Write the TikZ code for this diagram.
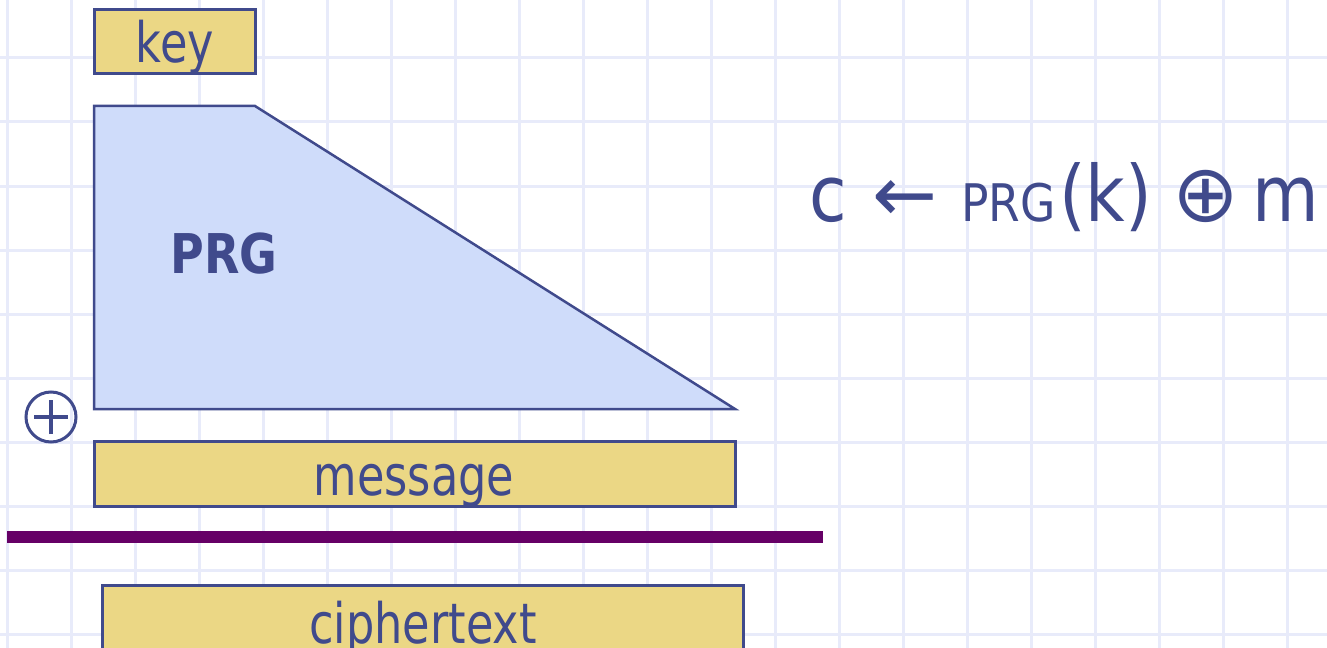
\documentclass[tikz,border=0pt]{standalone}
\usepackage{fontspec}
\setmainfont[FakeStretch=0.8]{DejaVu Sans}
\newfontfamily\symfont{DejaVu Sans}
\newfontfamily\eqfont[FakeStretch=0.88]{DejaVu Sans}
\newfontfamily\boldfont[FakeStretch=0.84]{DejaVu Sans Bold}
\definecolor{ink}{HTML}{404A8C}
\definecolor{gold}{HTML}{EBD785}
\definecolor{sky}{HTML}{CFDCFA}
\definecolor{plum}{HTML}{660066}
\definecolor{gridc}{HTML}{E8EBFA}
\begin{document}
\begin{tikzpicture}[x=1bp,y=-1bp,
  gridline/.style={draw=gridc,line width=3bp},
  ybox/.style={draw=ink,fill=gold,line width=3bp},
  lbl/.style={inner sep=0pt,text=ink,anchor=base,font=\fontsize{56}{60}\selectfont},
  eq/.style={inner sep=0pt,text=ink,anchor=base west},
  xorsym/.style={circle,draw=ink,line width=3bp,minimum size=50bp,inner sep=0pt}]
\useasboundingbox (0,0) rectangle (1327,648);
\clip (0,0) rectangle (1327,648);
\fill[white] (0,0) rectangle (1327,648);
\foreach \i in {0,...,20} \draw[gridline] (7+64*\i,0) -- (7+64*\i,648);
\foreach \j in {0,...,10} \draw[gridline] (0,-6+64*\j) -- (1327,-6+64*\j);
% key
\draw[ybox] (94,10) rectangle (255,74);
\node[lbl] (key) at (175,63) {key};
% PRG trapezoid
\draw[draw=ink,fill=sky,line width=2.5bp,line join=miter] (94,106) -- (255,106) -- (735,409) -- (94,409) -- cycle;
\node[lbl,font=\boldfont\fontsize{55}{60}\selectfont] (prg) at (224,273) {PRG};
% xor symbol
\node[xorsym] (xor) at (51,417) {};
\draw[ink,line width=3.5bp] ([xshift=-17bp]xor.center) -- ([xshift=17bp]xor.center);
\draw[ink,line width=3.5bp] ([yshift=-17bp]xor.center) -- ([yshift=17bp]xor.center);
% message
\draw[ybox] (94,441) rectangle (735,506);
\node[lbl] (msg) at (414,495) {message};
% bar
\draw[plum,line width=12bp] (7,537) -- (823,537);
% ciphertext
\draw[ybox] (102,585) rectangle (743,700);
\node[lbl] (ct) at (423,643) {ciphertext};
% equation
\node[eq,font=\eqfont\fontsize{78}{80}\selectfont] (c) at (809,221) {c};
\node[eq,font=\symfont\fontsize{78}{80}\selectfont] (arr) at (872,221) {←};
\node[eq,font=\eqfont\fontsize{52}{56}\selectfont] (prgf) at (961,221) {PRG};
\node[eq,font=\eqfont\fontsize{78}{80}\selectfont] (k) at (1059,221) {(k)};
\node[eq,font=\symfont\fontsize{80}{82}\selectfont] (op) at (1172,221) {⊕};
\node[eq,font=\eqfont\fontsize{78}{80}\selectfont] (m) at (1252,221) {m};
\end{tikzpicture}
\end{document}
